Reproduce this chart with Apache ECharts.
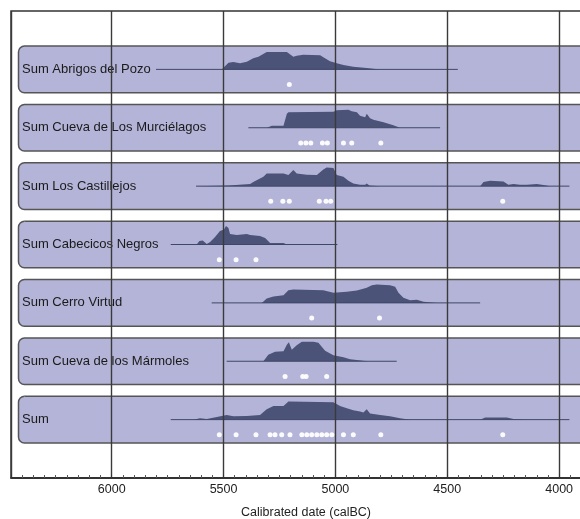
<!DOCTYPE html>
<html>
<head>
<meta charset="utf-8">
<script src="https://cdn.jsdelivr.net/npm/echarts/dist/echarts.min.js"></script>
<style>
  html, body { margin: 0; padding: 0; background: #fff; }
  #chart { width: 580px; height: 519px; }
</style>
</head>
<body>
<div id="chart"></div>
<script>
// Site names, top to bottom
const siteNames = [
  'Sum Abrigos del Pozo',
  'Sum Cueva de Los Murciélagos',
  'Sum Los Castillejos',
  'Sum Cabecicos Negros',
  'Sum Cerro Virtud',
  'Sum Cueva de los Mármoles',
  'Sum'
];

// Summed probability curves: calendar years (calBC) and relative probability
const abrigosYears = [5802, 5508, 5478, 5456, 5426, 5396, 5367, 5344, 5307, 5217, 5188, 5173, 5143, 5068, 5054, 5024, 4994, 4964, 4920, 4860, 4800, 4453];
const abrigosProb  = [0, 0, 0.33, 0.37, 0.30, 0.38, 0.55, 0.63, 0.87, 0.87, 0.63, 0.68, 0.73, 0.70, 0.60, 0.40, 0.30, 0.22, 0.13, 0.07, 0, 0];

const murcielagosYears = [5389, 5307, 5284, 5232, 5217, 5210, 5009, 4994, 4942, 4927, 4904, 4890, 4867, 4860, 4845, 4830, 4785, 4741, 4711, 4532];
const murcielagosProb  = [0, 0, 0.10, 0.10, 0.70, 0.77, 0.80, 0.87, 0.90, 0.82, 0.77, 0.60, 0.53, 0.70, 0.48, 0.40, 0.27, 0.13, 0, 0];

const castillejosYears = [5623, 5478, 5381, 5367, 5322, 5307, 5232, 5210, 5188, 5173, 5128, 5083, 5054, 5039, 5009, 4994, 4964, 4942, 4920, 4890, 4867, 4860, 4848, 4800, 4353, 4338, 4308, 4249, 4227, 4204, 4175, 4144, 4100, 4070, 4040, 3954];
const castillejosProb  = [0, 0.03, 0.10, 0.20, 0.47, 0.63, 0.63, 0.55, 0.80, 0.63, 0.57, 0.55, 0.83, 0.93, 0.90, 0.55, 0.47, 0.27, 0.13, 0.07, 0.07, 0.13, 0.03, 0, 0, 0.20, 0.27, 0.23, 0.07, 0.10, 0.07, 0.07, 0.10, 0.05, 0, 0];

const cabecicosYears = [5736, 5620, 5608, 5593, 5575, 5560, 5538, 5516, 5498, 5489, 5478, 5471, 5441, 5396, 5381, 5337, 5314, 5292, 5232, 5217, 4991];
const cabecicosProb  = [0, 0, 0.17, 0.20, 0.03, 0.13, 0.37, 0.67, 0.75, 0.92, 0.83, 0.53, 0.47, 0.53, 0.47, 0.42, 0.33, 0.08, 0.07, 0, 0];

const cerroYears = [5553, 5329, 5307, 5277, 5232, 5210, 5188, 5054, 5009, 4949, 4904, 4860, 4837, 4815, 4756, 4733, 4718, 4696, 4666, 4636, 4606, 4547, 4353];
const cerroProb  = [0, 0, 0.22, 0.32, 0.38, 0.63, 0.67, 0.63, 0.50, 0.55, 0.62, 0.75, 0.88, 0.92, 0.88, 0.80, 0.50, 0.25, 0.13, 0.15, 0.05, 0, 0];

const marmolesYears = [5486, 5322, 5300, 5270, 5232, 5217, 5208, 5195, 5173, 5150, 5098, 5076, 5046, 5009, 4964, 4934, 4875, 4852, 4726];
const marmolesProb  = [0, 0, 0.33, 0.47, 0.50, 0.83, 0.95, 0.58, 0.80, 0.97, 0.97, 0.92, 0.53, 0.30, 0.20, 0.10, 0.03, 0, 0];

const sumYears = [5736, 5635, 5605, 5575, 5530, 5486, 5456, 5396, 5337, 5307, 5277, 5232, 5210, 5009, 4979, 4949, 4920, 4890, 4875, 4860, 4845, 4800, 4756, 4711, 4666, 4353, 4331, 4234, 4204, 4144, 3954];
const sumProb  = [0, 0, 0.07, 0.03, 0.13, 0.23, 0.17, 0.18, 0.23, 0.52, 0.68, 0.68, 0.90, 0.87, 0.68, 0.57, 0.47, 0.40, 0.35, 0.52, 0.30, 0.23, 0.17, 0.07, 0, 0, 0.10, 0.10, 0.03, 0, 0];

// Median dates of the individual determinations (calBC)
const abrigosDates     = [5206];
const murcielagosDates = [5155, 5132, 5110, 5058, 5036, 4964, 4927, 4797];
const castillejosDates = [5289, 5235, 5206, 5072, 5042, 5021, 4252];
const cabecicosDates   = [5519, 5444, 5355];
const cerroDates       = [5106, 4803];
const marmolesDates    = [5225, 5146, 5131, 5039];
const sumDates         = [5519, 5444, 5355, 5292, 5270, 5240, 5203, 5150, 5128, 5106, 5083, 5061, 5039, 5016, 4964, 4920, 4797, 4252];

// Axis tick labels
const tickLabels = [6000, 5500, 5000, 4500, 4000];

const curveYears = [abrigosYears, murcielagosYears, castillejosYears, cabecicosYears, cerroYears, marmolesYears, sumYears];
const curveProb  = [abrigosProb, murcielagosProb, castillejosProb, cabecicosProb, cerroProb, marmolesProb, sumProb];
const dateSets   = [abrigosDates, murcielagosDates, castillejosDates, cabecicosDates, cerroDates, marmolesDates, sumDates];

const PEAK = 0.343;     // row height (axis units) taken by a probability of 1
const HALF = 0.4;       // half height of each row box
const DOT_DROP = 0.26;  // dots sit this far below the baseline
const FONT = '"Liberation Sans", Arial, Helvetica, sans-serif';

const rows = siteNames.map((n, i) => [i + 1]);

const dotData = [];
dateSets.forEach((set, i) => set.forEach(y => dotData.push([y, i + 1 + DOT_DROP])));

const chart = echarts.init(document.getElementById('chart'), null, { renderer: 'canvas' });

chart.setOption({
  backgroundColor: '#fff',
  animation: false,
  title: {
    text: 'Calibrated date (calBC)',
    left: 301,
    top: 501,
    textAlign: 'center',
    textStyle: { fontFamily: FONT, fontSize: 12.5, fontWeight: 'normal', color: '#222' }
  },
  grid: {
    // the plot runs on past the right edge of the page
    left: 11, top: 11, width: 660, bottom: 41,
    outerBoundsMode: 'none',
    containLabel: false,
    show: true, borderColor: '#333', borderWidth: 1.5, backgroundColor: 'transparent'
  },
  xAxis: {
    type: 'value',
    inverse: true,
    min: 3500,
    max: 6450,
    interval: 500,
    z: 5,
    axisLine: { show: true, onZero: false, lineStyle: { color: '#222', width: 1.5 } },
    axisTick: { show: true, inside: true, length: 4, lineStyle: { color: '#333' } },
    minorTick: { show: true, splitNumber: 10, length: 3, lineStyle: { color: '#555', width: 1 } },
    axisLabel: {
      margin: 5,
      fontFamily: FONT, fontSize: 12.5, color: '#222',
      showMaxLabel: false,
      showMinLabel: false,
      formatter: v => tickLabels.indexOf(v) >= 0 ? String(v) : ''
    },
    splitLine: { show: true, lineStyle: { color: '#3a3a3a', width: 1.4 } }
  },
  yAxis: {
    type: 'value', inverse: true, min: 0, max: 8, show: false,
    splitLine: { show: false }
  },
  series: [
    {
      // row boxes with site names
      type: 'custom', z: 1, silent: true, clip: false,
      data: rows,
      renderItem(params, api) {
        const row = params.dataIndex + 1;
        const cs = params.coordSys;
        const top = api.coord([6450, row - HALF])[1];
        const bot = api.coord([6450, row + HALF])[1];
        const mid = api.coord([6450, row])[1];
        return {
          type: 'group',
          children: [
            {
              type: 'rect',
              shape: { x: cs.x + 7.5, y: top, width: cs.width, height: bot - top, r: 6 },
              style: { fill: '#b4b4d8', stroke: '#555', lineWidth: 1.5 }
            },
            {
              type: 'text',
              style: {
                text: siteNames[params.dataIndex],
                x: cs.x + 11, y: mid,
                align: 'left', verticalAlign: 'middle',
                fill: '#1a1a1a', font: '13px ' + FONT
              }
            }
          ]
        };
      }
    },
    {
      // summed probability curves
      type: 'custom', z: 2, silent: true, clip: false,
      data: rows,
      renderItem(params, api) {
        const i = params.dataIndex, row = i + 1;
        const years = curveYears[i], prob = curveProb[i];
        const pts = years.map((y, k) => api.coord([y, row - prob[k] * PEAK]));
        const a = api.coord([years[0], row]);
        const b = api.coord([years[years.length - 1], row]);
        return {
          type: 'group',
          children: [
            { type: 'polygon', shape: { points: pts }, style: { fill: '#4b5378' } },
            {
              type: 'line',
              shape: { x1: a[0], y1: a[1], x2: b[0], y2: b[1] },
              style: { stroke: '#3f4766', lineWidth: 1 }
            }
          ]
        };
      }
    },
    {
      // individual dates
      type: 'scatter', z: 10, silent: true,
      symbol: 'circle', symbolSize: 5,
      itemStyle: { color: '#ffffff', opacity: 0.95 },
      data: dotData
    }
  ]
});
</script>
</body>
</html>
